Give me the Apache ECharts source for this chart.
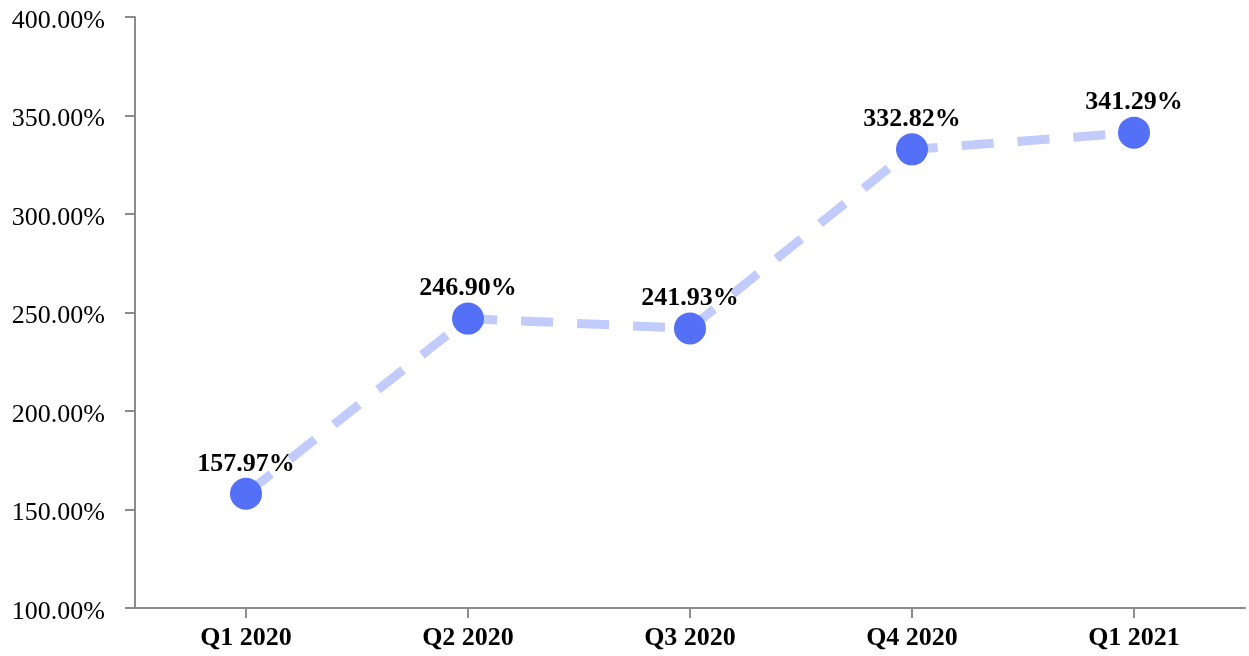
<!DOCTYPE html>
<html>
<head>
<meta charset="utf-8">
<title>Quarterly growth</title>
<script src="https://cdn.jsdelivr.net/npm/echarts@6/dist/echarts.min.js"></script>
<style>
  html, body { margin: 0; padding: 0; background: #ffffff; }
  #chart { width: 1249px; height: 656px; }
</style>
</head>
<body>
<div id="chart"></div>
<script>
// Quarter labels along the x axis
const quarters = ['Q1 2020', 'Q2 2020', 'Q3 2020', 'Q4 2020', 'Q1 2021'];
// Growth rate per quarter, in percent
const growthPct = [157.97, 246.90, 241.93, 332.82, 341.29];
// Value axis range and step, in percent
const yMin = 100;
const yMax = 400;
const yStep = 50;

const serif = '"Liberation Serif", "Times New Roman", serif';
const axisGrey = '#8c8c8c';

const chart = echarts.init(document.getElementById('chart'), null, { renderer: 'canvas' });

chart.setOption({
  animation: false,
  backgroundColor: '#ffffff',
  grid: { left: 135, right: 4, top: 17, bottom: 48, containLabel: false },
  xAxis: {
    type: 'category',
    data: quarters,
    boundaryGap: true,
    axisLine: { show: true, lineStyle: { color: axisGrey, width: 2 } },
    axisTick: { show: true, alignWithLabel: true, length: 10, lineStyle: { color: axisGrey, width: 2 } },
    axisLabel: {
      margin: 17,
      color: '#000000',
      fontFamily: serif,
      fontWeight: 'bold',
      fontSize: 26
    },
    splitLine: { show: false }
  },
  yAxis: {
    type: 'value',
    min: yMin,
    max: yMax,
    interval: yStep,
    axisLine: { show: true, lineStyle: { color: axisGrey, width: 2 } },
    axisTick: { show: true, length: 10, lineStyle: { color: axisGrey, width: 2 } },
    axisLabel: {
      margin: 30,
      color: '#000000',
      fontFamily: serif,
      fontSize: 26,
      formatter: v => '{t|' + v.toFixed(2) + '%}',
      rich: {
        t: {
          color: '#000000',
          fontFamily: serif,
          fontSize: 26,
          padding: [8, 0, 0, 0]
        }
      }
    },
    splitLine: { show: false }
  },
  series: [{
    type: 'line',
    data: growthPct,
    symbol: 'circle',
    symbolSize: 32,
    itemStyle: { color: '#5470f6' },
    lineStyle: { color: 'rgba(84,112,246,0.36)', width: 9, type: [32, 24] },
    label: {
      show: true,
      position: 'top',
      distance: 1,
      color: '#000000',
      fontFamily: serif,
      fontWeight: 'bold',
      fontSize: 26,
      formatter: p => p.value.toFixed(2) + '%'
    }
  }]
});
</script>
</body>
</html>
